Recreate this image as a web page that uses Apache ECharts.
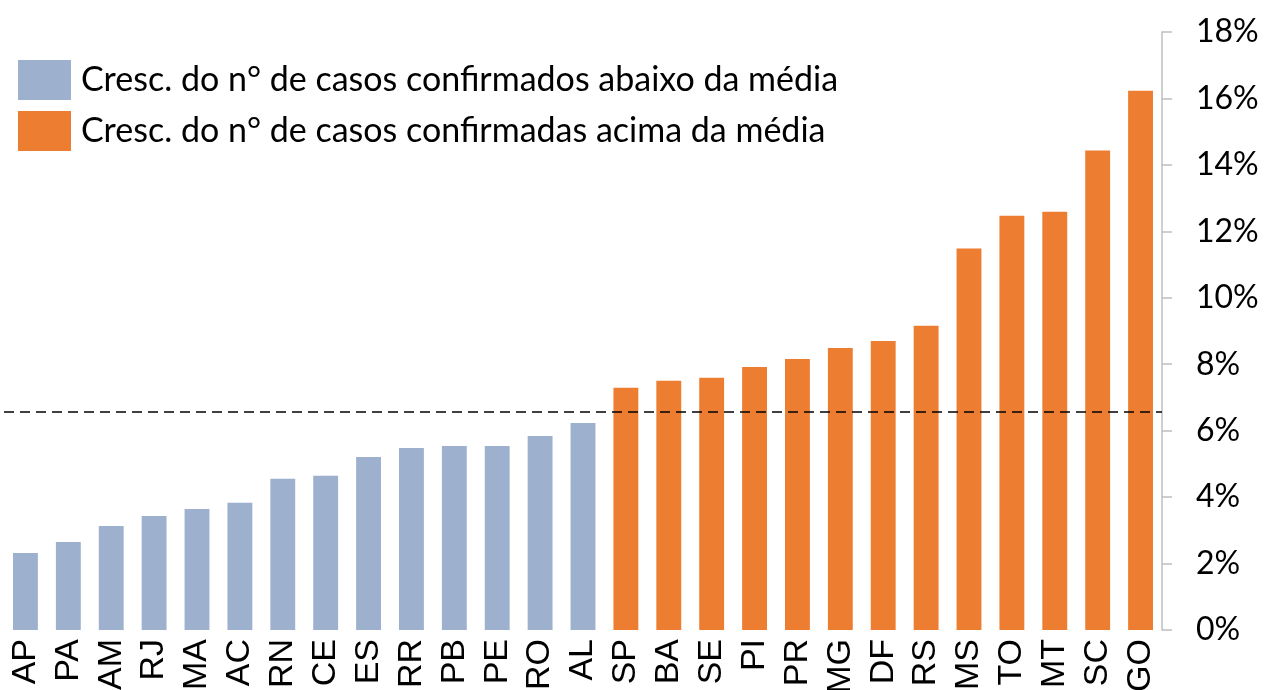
<!DOCTYPE html>
<html>
<head>
<meta charset="utf-8">
<script src="https://cdn.jsdelivr.net/npm/echarts@6/dist/echarts.min.js"></script>
<style>
  html, body { margin: 0; padding: 0; background: #fff; }
  #chart { width: 1264px; height: 690px; }
</style>
</head>
<body>
<div id="chart"></div>
<script>
const states = ['AP', 'PA', 'AM', 'RJ', 'MA', 'AC', 'RN', 'CE', 'ES', 'RR', 'PB', 'PE', 'RO', 'AL',
  'SP', 'BA', 'SE', 'PI', 'PR', 'MG', 'DF', 'RS', 'MS', 'TO', 'MT', 'SC', 'GO'];
// growth (%) of confirmed cases
const belowAvg = [2.32, 2.65, 3.13, 3.43, 3.64, 3.83, 4.55, 4.64, 5.21, 5.48, 5.54, 5.54, 5.84, 6.23,
  '-', '-', '-', '-', '-', '-', '-', '-', '-', '-', '-', '-', '-'];
const aboveAvg = ['-', '-', '-', '-', '-', '-', '-', '-', '-', '-', '-', '-', '-', '-',
  7.29, 7.50, 7.59, 7.92, 8.16, 8.49, 8.70, 9.16, 11.48, 12.47, 12.59, 14.43, 16.23];
const average = 6.57;

const font = 'Lato';

const chart = echarts.init(document.getElementById('chart'));
chart.setOption({
  animation: false,
  textStyle: { fontFamily: font },
  grid: { left: 4, right: 102, top: 32, bottom: 60, outerBoundsMode: 'none', containLabel: false },
  legend: {
    orient: 'vertical',
    left: 13,
    top: 55,
    itemWidth: 53,
    itemHeight: 40,
    itemGap: 11,
    icon: 'rect',
    textStyle: { fontSize: 34, color: '#000', fontFamily: font, padding: [0, 0, 0, 5] },
    data: ['Cresc. do n° de casos confirmados abaixo da média', 'Cresc. do n° de casos confirmadas acima da média']
  },
  xAxis: {
    type: 'category',
    data: states,
    axisLine: { show: false },
    axisTick: { show: false },
    axisLabel: { rotate: 90, fontSize: 34, color: '#000', margin: 9, interval: 0, fontFamily: 'Liberation Sans' }
  },
  yAxis: {
    type: 'value',
    position: 'right',
    min: 0,
    max: 18,
    interval: 2,
    splitLine: { show: false },
    axisLine: { show: true, lineStyle: { color: '#BFBFBF', width: 1.5 } },
    axisTick: { show: true, inside: false, length: 10, lineStyle: { color: '#BFBFBF', width: 1.5 } },
    axisLabel: { fontSize: 32, color: '#000', margin: 34, formatter: '{value}%', fontFamily: font }
  },
  series: [
    {
      name: 'Cresc. do n° de casos confirmados abaixo da média',
      type: 'bar',
      stack: 'g',
      barWidth: '58%',
      data: belowAvg,
      itemStyle: { color: '#9DB0CE' },
      markLine: {
        symbol: 'none',
        silent: true,
        label: { show: false },
        lineStyle: { color: '#000', type: [10, 6], width: 1.5 },
        data: [{ yAxis: average }]
      }
    },
    {
      name: 'Cresc. do n° de casos confirmadas acima da média',
      type: 'bar',
      stack: 'g',
      barWidth: '58%',
      data: aboveAvg,
      itemStyle: { color: '#ED7D31' }
    }
  ]
});
</script>
</body>
</html>
